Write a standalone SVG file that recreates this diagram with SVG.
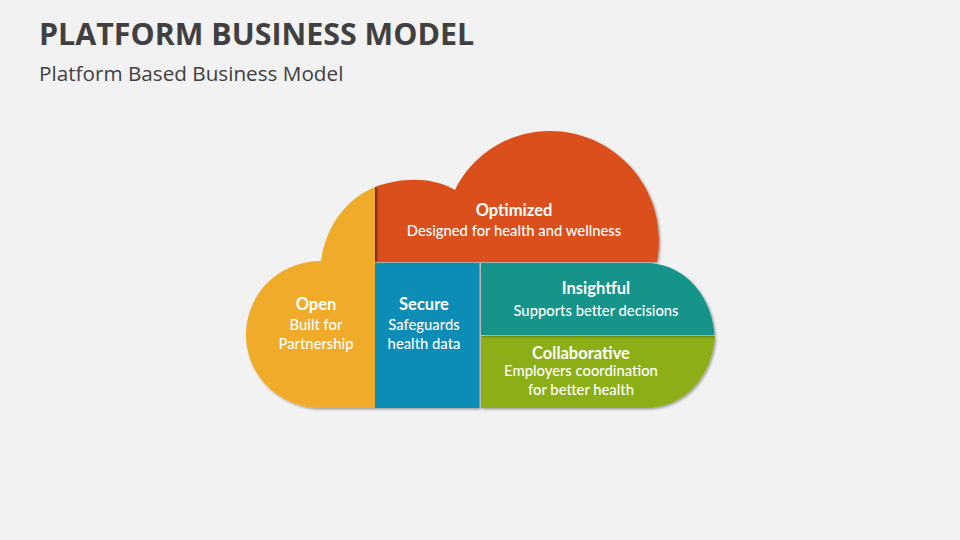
<svg xmlns="http://www.w3.org/2000/svg" width="960" height="540" viewBox="0 0 960 540">
<defs>
<filter id="sh" x="-10%" y="-10%" width="120%" height="120%"><feDropShadow dx="1.5" dy="1.5" stdDeviation="1.2" flood-color="#000" flood-opacity="0.35"/></filter>
<linearGradient id="edge" x1="0" x2="1" y1="0" y2="0"><stop offset="0" stop-color="#7a3010" stop-opacity="0.7"/><stop offset="1" stop-color="#7a3010" stop-opacity="0"/></linearGradient>
</defs>
<style>
.title{font:700 30.4px "Open Sans",sans-serif;fill:#404040}
.sub{font:400 20.7px "Open Sans",sans-serif;fill:#404040}
text.h,text.b{font-family:Lato,"Open Sans",sans-serif;fill:#fff;text-anchor:middle}
.h{font-size:16.5px;font-weight:700}
.b{font-size:14.8px;font-weight:500}
</style>
<rect width="960" height="540" fill="#f2f2f2"/>
<text class="title" x="39" y="45">PLATFORM BUSINESS MODEL</text>
<text class="sub" x="39" y="81">Platform Based Business Model</text>
<g id="optimized">
<path d="M375 187C400 178 430 176 455 190C473 153 510 131 550 131C610 131 659 180 659 240Q659 252 657 262H375Z" fill="#db4f1a" filter="url(#sh)"/>
<rect x="375" y="187" width="4" height="74" fill="url(#edge)"/>
<text class="h" x="514" y="216">Optimized</text>
<text class="b" x="514" y="236">Designed for health and wellness</text>
</g>
<g id="open">
<path d="M375 187V408H320C279 408 246 375 246 335C246 294 279 261 321 261C326 226 346 199 375 187Z" fill="#f0ab29" filter="url(#sh)"/>
<text class="h" x="316" y="310">Open</text>
<text class="b" x="316" y="330">Built for</text>
<text class="b" x="316" y="349">Partnership</text>
</g>
<g id="secure">
<rect x="375" y="263" width="104.500" height="145" fill="#0e8cb5" filter="url(#sh)"/>
<text class="h" x="424" y="310">Secure</text>
<text class="b" x="424" y="330">Safeguards</text>
<text class="b" x="424" y="349">health data</text>
</g>
<g id="collaborative">
<path d="M481 336H715C712 376 685 408 645 408H481Z" fill="#8cae12" filter="url(#sh)"/>
<text class="h" x="581" y="359">Collaborative</text>
<text class="b" x="581" y="376">Employers coordination</text>
<text class="b" x="581" y="395">for better health</text>
</g>
<g id="insightful">
<path d="M481 263H650C687 266 712 298 714.500 335H481Z" fill="#12948a" filter="url(#sh)"/>
<text class="h" x="596" y="294">Insightful</text>
<text class="b" x="596" y="316">Supports better decisions</text>
</g>
</svg>
